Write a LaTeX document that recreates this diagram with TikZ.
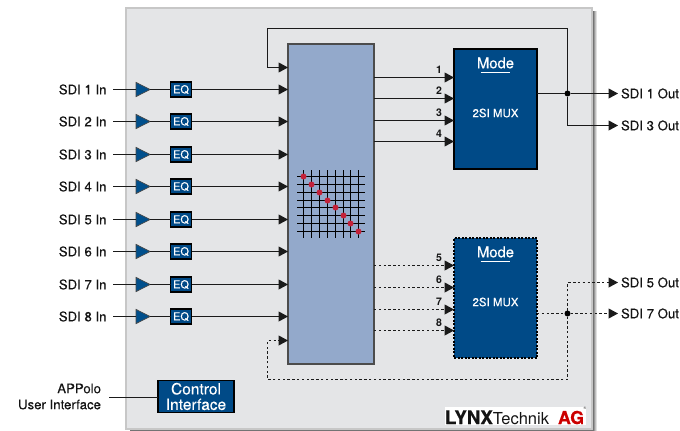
\documentclass[tikz,border=0pt]{standalone}
\usepackage{fontspec}
\setmainfont{TeX Gyre Heros}[FakeBold=0.25]
\newfontfamily\heavyfont{TeX Gyre Heros Bold}[FakeBold=0.6]
\newfontfamily\plainfont{TeX Gyre Heros}
\usetikzlibrary{arrows.meta,shapes.geometric,calc}
\definecolor{muxblue}{HTML}{004A87}
\definecolor{matrixblue}{HTML}{93A9CB}
\definecolor{panelgrey}{HTML}{E4E5E7}
\definecolor{wire}{HTML}{1A1A1A}
\definecolor{dotred}{HTML}{C4213A}
\definecolor{ampblue}{HTML}{004F8C}
\newcommand{\fs}[1]{\fontsize{#1}{#1}\selectfont}
\tikzset{
  x=1pt,y=-1pt,
  every node/.style={inner sep=0pt,outer sep=0pt,text=black!92},
  lbl/.style={font=\fs{13.2}},
  num/.style={font=\fs{10.5}\plainfont\bfseries},
  amp/.style={draw=wire!80,line width=.7pt,fill=ampblue,isosceles triangle,isosceles triangle apex angle=54,minimum height=14pt,minimum width=14pt,anchor=west},
  eqbox/.style={draw=black,line width=1.1pt,fill=muxblue,minimum width=21pt,minimum height=15pt,text=white,font=\fs{11}},
  muxbox/.style={draw=black,line width=1.1pt,fill=muxblue,minimum width=83pt,minimum height=120pt,anchor=north west},
  dotbox/.style={muxbox,dash pattern=on 2pt off 1.5pt},
  wl/.style={draw=wire,line width=1pt},
  sig/.style={wl,-{Triangle[length=9.5pt,width=10pt]}},
  dsig/.style={sig,dash pattern=on 2.4pt off 2.4pt},
  junction/.style={circle,fill=black,minimum size=6pt},
  white text/.style={text=white},
  gridline/.style={draw=black,line width=1pt},
  crosspoint/.style={circle,fill=dotred,minimum size=6pt},
}
\begin{document}
\begin{tikzpicture}
\useasboundingbox (0,0) rectangle (680,431);
% panel with shadow
\foreach \o/\a in {5/.12,4/.15,3/.2,2/.25,1/.3}
  \fill[black,opacity=\a] (130,11) rectangle (592+\o,429+\o);
\node[draw=black!22,line width=1.2pt,fill=panelgrey,minimum width=466pt,minimum height=421pt,anchor=north west] (panel) at (126,8) {};
% matrix block
\node[draw=black!70,line width=1.1pt,fill=matrixblue,minimum width=86pt,minimum height=320pt,anchor=north west] (matrix) at (288,44) {};
% grid
\foreach \i/\v in {1/303.5,2/311.5,3/319.5,4/327.5,5/335.5,6/343.5,7/350.5,8/358.5}
  \draw[gridline] (\v,170) -- (\v,238);
\foreach \i/\v in {1/176.5,2/184.5,3/192.5,4/200.5,5/207.5,6/215.5,7/223.5,8/231.5}
  \draw[gridline] (297,\v) -- (365,\v);
\foreach \x/\v in {303.5/176.5,311.5/184.5,319.5/192.5,327.5/200.5,335.5/207.5,343.5/215.5,350.5/223.5,358.5/231.5}
  \node[crosspoint] at (\x,\v) {};
% inputs
\foreach \n/\v in {1/89.5,2/121.5,3/154.5,4/186.5,5/219.5,6/251.5,7/284.5,8/316.5}{
  \node[lbl,anchor=east] (in\n) at (106.5,\v) {SDI \n\ In};
  \coordinate (st\n) at (113,\v);
  \node[amp] (amp\n) at (136,\v) {};
  \node[eqbox] (eq\n) at (181,\v) {EQ};
  \draw[wl] (st\n) -- (amp\n.west);
  \draw[wl] (amp\n.east) -- (eq\n.west);
  \draw[sig] (eq\n.east) -- (matrix.west |- eq\n.east);
}
% mux blocks
\node[muxbox] (mux1) at (454,49) {};
\node[dotbox] (mux2) at (454,238) {};
\foreach \m/\t in {mux1/49,mux2/238}{
  \node[font=\fs{14.8},white text] (mode\m) at (495.5,\t+14) {Mode};
  \draw[white,line width=.8pt] (480.5,\t+23.5) -- (510,\t+23.5);
  \node[font=\fs{11.5},white text] (title\m) at (495.5,\t+64) {2SI MUX};
}
% mux inputs
\foreach \n/\v in {1/77.5,2/98.5,3/120.5,4/141.5}{
  \coordinate (mi\n) at (454,\v);
  \draw[sig] (matrix.east |- mi\n) -- (mi\n);
  \node[num] (l\n) at (439,\v-7.5) {\n};
}
\foreach \n/\v in {5/265.5,6/287.5,7/309.5,8/330.5}{
  \coordinate (mi\n) at (454,\v);
  \draw[dsig] (matrix.east |- mi\n) -- (mi\n);
  \node[num] (l\n) at (439,\v-7.5) {\n};
}
% outputs
\node[lbl,anchor=west] (o1) at (621,93.5) {SDI 1 Out};
\node[lbl,anchor=west] (o3) at (621,125.5) {SDI 3 Out};
\node[lbl,anchor=west] (o5) at (621,282.5) {SDI 5 Out};
\node[lbl,anchor=west] (o7) at (621,313.5) {SDI 7 Out};
\node[junction] (j1) at (567.5,93.5) {};
\node[junction] (j2) at (567.5,313.5) {};
\draw[sig] (mux1.east |- j1) -- (j1) -- ($(o1.west)+(-3,0)$);
\draw[sig] (j1) |- ($(o3.west)+(-3,0)$);
\draw[dsig] (mux2.east |- j2) -- (j2) -- ($(o7.west)+(-3,0)$);
\draw[dsig] (j2) |- ($(o5.west)+(-3,0)$);
% feedback loops
\coordinate (tl) at (267.5,28.5);
\coordinate (bl) at (267.5,379.5);
\draw[sig] (j1) -- (j1 |- tl) -- (tl) -- (267.5,67.5) -- (matrix.west |- 0,67.5);
\draw[dsig] (j2) -- (j2 |- bl) -- (bl) -- (267.5,340.5) -- (matrix.west |- 0,340.5);
% control
\node[draw=black,line width=1.1pt,fill=muxblue,minimum width=76pt,minimum height=32pt,white text,font=\fs{15.5},align=center] (ctrl) at (196,396.5) {\fontsize{15.5}{14}\selectfont Control\\Interface};
\node[font=\fontsize{13.2}{16}\selectfont,align=right,anchor=east] (app) at (101,396.5) {APPolo\\User Interface};
\coordinate (append) at (109,397.5);
\draw[wl] (append) -- (ctrl.west |- append);
% logo
\fill[white] (445,407) rectangle (586,425);
\node[anchor=base west,font=\fs{18.7}\heavyfont] (logoa) at (445,424) {LYNX};
\node[anchor=base west,font=\fs{16.5}\plainfont] (logob) at (logoa.base east) {Technik};
\node[anchor=base west,font=\fs{17.8}\heavyfont,text=red!80!black] (logoc) at (558,424) {AG};
\node[font=\fs{3.5}\plainfont,anchor=south] (logor) at (585,410) {®};
\end{tikzpicture}
\end{document}
